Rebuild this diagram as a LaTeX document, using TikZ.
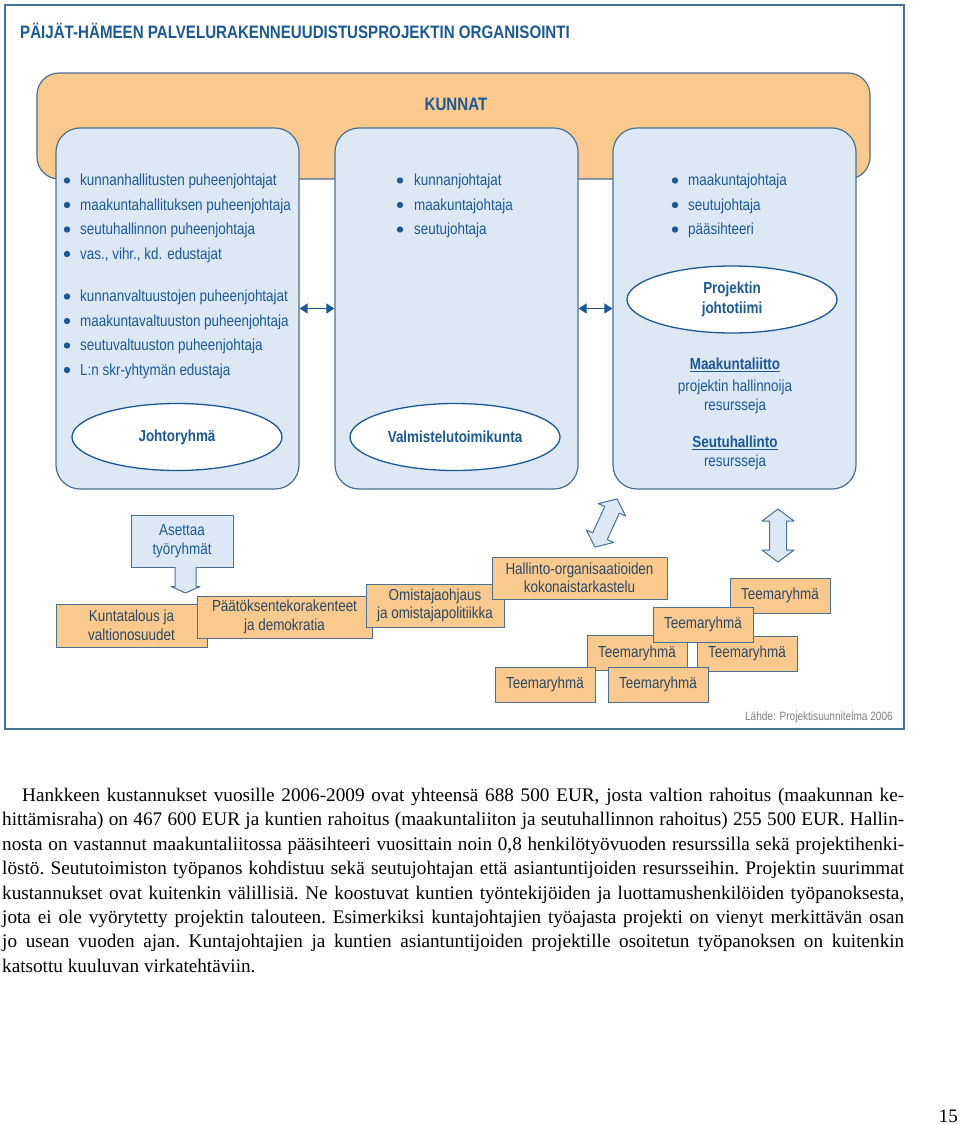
\documentclass[tikz,border=0pt]{standalone}
\usepackage{fontspec}
\setmainfont{Liberation Sans}[FakeStretch=0.84]
\newfontfamily\bodyserif{Liberation Serif}
\usetikzlibrary{arrows.meta}
\usetikzlibrary{shapes.geometric}
\usetikzlibrary{positioning}

\definecolor{kblue}{RGB}{28,88,150}
\definecolor{kline}{RGB}{74,112,146}
\definecolor{korange}{RGB}{250,201,141}
\definecolor{klight}{RGB}{221,232,245}
\definecolor{kslate}{RGB}{45,72,100}

\tikzset{
  panel/.style={draw=kline, line width=1.2pt, fill=klight, rounded corners=24pt,
    minimum width=243pt, minimum height=361pt},
  oval/.style={ellipse, draw=kblue, line width=1.3pt, fill=white, minimum width=210pt,
    minimum height=67pt, inner sep=0pt, align=center, text=kblue,
    font=\bfseries\fontsize{16}{20}\selectfont},
  item/.style={anchor=base west, inner sep=0pt, text=kblue, font=\fontsize{16}{18}\selectfont},
  note/.style={inner sep=0pt, text=kblue, font=\fontsize{16}{18}\selectfont},
  topic/.style={draw=kline, line width=1pt, fill=korange, text=kslate, align=center,
    inner sep=0pt, font=\fontsize{16}{18.5}\selectfont},
  blockarrow/.style={draw=kline, line width=1pt, fill=klight, line join=round},
  linkarrow/.style={{Triangle[width=10pt,length=8pt]}-{Triangle[width=10pt,length=8pt]},
    draw=kblue, line width=1pt},
}

\begin{document}
\begin{tikzpicture}[x=1pt,y=-1pt]
    \useasboundingbox (0,0) rectangle (960,1125);
    \fill[white] (0,0) rectangle (960,1125);
    % frame and title
    \draw[kline, line width=1.2pt] (5,5) rectangle (904,729);
    \node[anchor=base west, inner sep=0pt, text=kblue, font=\bfseries\fontsize{18}{20}\selectfont]
        (title) at (20,38.5) {PÄIJÄT-HÄMEEN PALVELURAKENNEUUDISTUSPROJEKTIN ORGANISOINTI};
    % kunnat
    \node[draw=kline, line width=1.2pt, fill=korange, rounded corners=22pt,
        minimum width=833pt, minimum height=106pt] (kunnat) at (453.5,126) {};
    \node[text=kblue, font=\bfseries\fontsize{18}{20}\selectfont] (kunnatlabel) at (456,104) {KUNNAT};
    % three panels
    \node[panel] (lpanel) at (177.5,308.5) {};
    \node[panel] (mpanel) at (456.5,308.5) {};
    \node[panel] (rpanel) at (734.5,308.5) {};
    \draw[linkarrow] (lpanel.east) -- (mpanel.west);
    \draw[linkarrow] (mpanel.east) -- (rpanel.west);
    % left panel
    \foreach \t [count=\i] in {kunnanhallitusten puheenjohtajat, maakuntahallituksen puheenjohtaja,
        seutuhallinnon puheenjohtaja, {vas., vihr., kd. edustajat}}
    {
        \fill[kblue] (67,180.5+24.5*\i-24.5) circle (3.2pt);
        \node[item] (la\i) at (80,185.5+24.5*\i-24.5) {\t};
    }
    \foreach \t [count=\i] in {kunnanvaltuustojen puheenjohtajat, maakuntavaltuuston puheenjohtaja,
        seutuvaltuuston puheenjohtaja, L:n skr-yhtymän edustaja}
    {
        \fill[kblue] (67,296.5+24.5*\i-24.5) circle (3.2pt);
        \node[item] (lb\i) at (80,301.5+24.5*\i-24.5) {\t};
    }
    \node[oval] (johto) at (177,437) {Johtoryhmä};
    % middle panel
    \foreach \t [count=\i] in {kunnanjohtajat, maakuntajohtaja, seutujohtaja}
    {
        \fill[kblue] (400,180.5+24.5*\i-24.5) circle (3.2pt);
        \node[item] (m\i) at (414,185.5+24.5*\i-24.5) {\t};
    }
    \node[oval] (valmis) at (455,437) {Valmistelutoimikunta};
    % right panel
    \foreach \t [count=\i] in {maakuntajohtaja, seutujohtaja, pääsihteeri}
    {
        \fill[kblue] (675,180.5+24.5*\i-24.5) circle (3.2pt);
        \node[item] (r\i) at (688,185.5+24.5*\i-24.5) {\t};
    }
    \node[oval] (tiimi) at (732,299.5) {Projektin\\johtotiimi};
    \node[note, font=\bfseries\fontsize{16}{18}\selectfont] (maak) at (735,365) {\underline{Maakuntaliitto}};
    \node[note] (hall) at (735,387) {projektin hallinnoija};
    \node[note] (res1) at (735,406) {resursseja};
    \node[note, font=\bfseries\fontsize{16}{18}\selectfont] (seutu) at (735,443) {\underline{Seutuhallinto}};
    \node[note] (res2) at (735,462) {resursseja};
    % working groups
    \node[draw=kline, line width=1pt, fill=klight, text=kblue, align=center, inner sep=0pt,
        minimum width=102pt, minimum height=52pt, font=\fontsize{16}{19}\selectfont]
        (asettaa) at (182,541) {Asettaa\\työryhmät};
    \draw[blockarrow] (175,567) -- (175,586.5) -- (171,586.5) -- (185.5,593) -- (200,586.5)
        -- (196,586.5) -- (196,567);
    \node[topic, minimum width=151pt, minimum height=43pt] (kunta) at (131.5,625.5)
        {Kuntatalous ja\\valtionosuudet};
    \node[topic, minimum width=175pt, minimum height=42pt] (paatos) at (284.5,617)
        {Päätöksentekorakenteet\\ja demokratia};
    \node[topic, minimum width=138pt, minimum height=43pt] (omist) at (435,605.5)
        {Omistajaohjaus\\ja omistajapolitiikka};
    \node[topic, minimum width=175pt, minimum height=42pt] (hallinto) at (579.5,578)
        {Hallinto-organisaatioiden\\kokonaistarkastelu};
    % double block arrows
    \begin{scope}[shift={(606,523)}, rotate=65.4]
        \draw[blockarrow] (-26.5,0) -- (-14.5,15) -- (-14.5,8) -- (14.5,8) -- (14.5,15)
            -- (26.5,0) -- (14.5,-15) -- (14.5,-8) -- (-14.5,-8) -- (-14.5,-15) -- cycle;
    \end{scope}
    \begin{scope}[shift={(778,535.5)}, rotate=90]
        \draw[blockarrow] (-26.5,0) -- (-14.5,16) -- (-14.5,8.5) -- (14.5,8.5) -- (14.5,16)
            -- (26.5,0) -- (14.5,-16) -- (14.5,-8.5) -- (-14.5,-8.5) -- (-14.5,-16) -- cycle;
    \end{scope}
    % theme groups
    \node[topic, minimum width=100pt, minimum height=35pt] (teema1) at (780,595.5) {Teemaryhmä};
    \node[topic, minimum width=100pt, minimum height=35pt] (teema3) at (637,653) {Teemaryhmä};
    \node[topic, minimum width=100pt, minimum height=35pt] (teema4) at (747,653.5) {Teemaryhmä};
    \node[topic, minimum width=100pt, minimum height=35pt] (teema2) at (703,624.5) {Teemaryhmä};
    \node[topic, minimum width=100pt, minimum height=35pt] (teema5) at (545,684.5) {Teemaryhmä};
    \node[topic, minimum width=100pt, minimum height=35pt] (teema6) at (658,684.5) {Teemaryhmä};
    \node[anchor=base east, inner sep=0pt, text=gray, font=\fontsize{12}{14}\selectfont]
        (lahde) at (893,720) {Lähde: Projektisuunnitelma 2006};
    % body text
    \node[anchor=north west, inner sep=0pt, align=left,
        font=\bodyserif\frenchspacing\fontsize{19.2}{24.4}\selectfont]
        (body) at (2,788) {%
        \makebox[902pt][s]{\hspace*{20pt}Hankkeen kustannukset vuosille 2006-2009 ovat yhteensä 688 500 EUR, josta valtion rahoitus (maakunnan ke-}\\
        \makebox[902pt][s]{hittämisraha) on 467 600 EUR ja kuntien rahoitus (maakuntaliiton ja seutuhallinnon rahoitus) 255 500 EUR. Hallin-}\\
        \makebox[902pt][s]{nosta on vastannut maakuntaliitossa pääsihteeri vuosittain noin 0,8 henkilötyövuoden resurssilla sekä projektihenki-}\\
        \makebox[902pt][s]{löstö. Seututoimiston työpanos kohdistuu sekä seutujohtajan että asiantuntijoiden resursseihin. Projektin suurimmat}\\
        \makebox[902pt][s]{kustannukset ovat kuitenkin välillisiä. Ne koostuvat kuntien työntekijöiden ja luottamushenkilöiden työpanoksesta,}\\
        \makebox[902pt][s]{jota ei ole vyörytetty projektin talouteen. Esimerkiksi kuntajohtajien työajasta projekti on vienyt merkittävän osan}\\
        \makebox[902pt][s]{jo usean vuoden ajan. Kuntajohtajien ja kuntien asiantuntijoiden projektille osoitetun työpanoksen on kuitenkin}\\
        katsottu kuuluvan virkatehtäviin.};
    \node[anchor=base east, inner sep=0pt, font=\bodyserif\fontsize{19}{20}\selectfont] (page) at (958,1122) {15};
\end{tikzpicture}
\end{document}
